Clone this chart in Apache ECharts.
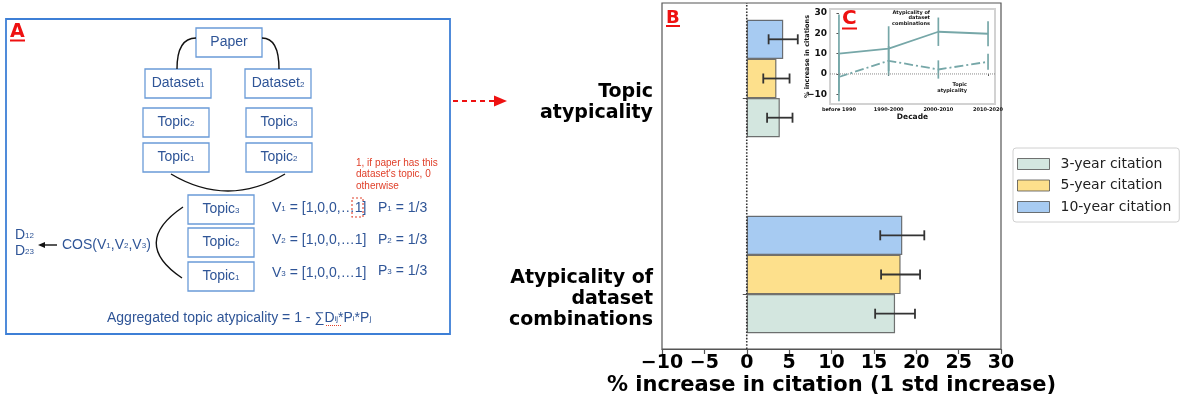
<!DOCTYPE html>
<html><head><meta charset="utf-8">
<script src="https://cdn.jsdelivr.net/npm/echarts@6/dist/echarts.min.js"></script>
<style>html,body{margin:0;padding:0;background:#fff}#c{width:1183px;height:402px}</style>
</head><body><div id="c"></div>
<script>
// ---------- data ----------
const categories = ['Atypicality of\ndataset\ncombinations', 'Topic\natypicality'];
const seriesNames = ['3-year citation', '5-year citation', '10-year citation'];
const cit3 = [17.5, 3.9];
const cit5 = [18.15, 3.5];
const cit10 = [18.35, 4.3];
const err3 = [2.35, 1.5];
const err5 = [2.3, 1.55];
const err10 = [2.6, 1.72];
const xTicks = [-10, -5, 0, 5, 10, 15, 20, 25, 30];
const decades = ['before 1990', '1990-2000', '2000-2010', '2010-2020'];
const combByDecade = [10.0, 12.5, 20.8, 19.8];
const combErr = [19.3, 11, 7, 6.2];
const topicByDecade = [-1.5, 6.5, 2.2, 6.0];
const topicErr = [11.9, 7.3, 4.5, 3.9];
const insetYTicks = [-10, 0, 10, 20, 30];

// ---------- styles ----------
const colors = ['#d3e6df', '#fde08c', '#a7cbf2'];
const edge = 'rgba(70,70,70,0.75)';
const teal = '#76a7a8';
const DJ = 'DejaVu Sans';
const LS = 'Liberation Sans';
const blueText = '#2f5597';
const blueBox = '#6a9bd8';

// main error bars data: [category, lo, hi, slot] (slot: -1 top, 0 middle, +1 bottom)
const errData = [];
[[cit3, err3, 1], [cit5, err5, 0], [cit10, err10, -1]].forEach(([v, e, slot]) => {
  for (let i = 0; i < categories.length; i++) errData.push([i, v[i] - e[i], v[i] + e[i], slot]);
});
const insetErrData = [];
for (let i = 0; i < decades.length; i++) {
  insetErrData.push([i, combByDecade[i] - combErr[i], combByDecade[i] + combErr[i]]);
  insetErrData.push([i, topicByDecade[i] - topicErr[i], topicByDecade[i] + topicErr[i]]);
}

// ---------- panel A graphics helpers ----------
function rt(parts) {
  return parts.map(([t, s]) => (s ? '{s|' + t + '}' : '{n|' + t + '}')).join('');
}
function richText(x, y, parts, fs, align, color) {
  return {
    type: 'text', z: 100, x: x, y: y,
    style: {
      text: rt(parts), align: align || 'left', verticalAlign: 'middle',
      fontFamily: LS, fontSize: fs, fill: color || blueText,
      rich: {
        n: { fontSize: fs, fontFamily: LS, fill: color || blueText },
        s: { fontSize: Math.round(fs * 0.55), fontFamily: LS, fill: color || blueText, verticalAlign: 'bottom', padding: [0, 0, 2, 0] }
      }
    }
  };
}
function box(x, y, w, h, parts) {
  return [
    { type: 'rect', z: 100, shape: { x: x, y: y, width: w, height: h }, style: { fill: '#fff', stroke: blueBox, lineWidth: 1.3 } },
    richText(x + w / 2, y + h / 2, parts, 14, 'center')
  ];
}
const curve = (x1, y1, cx, cy, x2, y2) => ({ type: 'bezierCurve', z: 100, shape: { x1, y1, x2, y2, cpx1: cx, cpy1: cy }, style: { stroke: '#111', lineWidth: 1.4, fill: null } });

const graphics = [
  { type: 'rect', z: 99, shape: { x: 6, y: 19, width: 444, height: 315 }, style: { fill: 'none', stroke: '#3d7fd6', lineWidth: 1.8 } },
  { type: 'text', z: 100, x: 10, y: 32, style: { text: 'A', fontFamily: DJ, fontWeight: 'bold', fontSize: 19, fill: '#ee1111', verticalAlign: 'middle' } },
  { type: 'line', z: 100, shape: { x1: 10, y1: 40.5, x2: 25, y2: 40.5 }, style: { stroke: '#ee1111', lineWidth: 2 } },
  ...box(196, 28, 66, 29, [['Paper']]),
  ...box(145, 69, 66, 29, [['Dataset'], ['1', 1]]),
  ...box(245, 69, 66, 29, [['Dataset'], ['2', 1]]),
  ...box(143, 108, 66, 29, [['Topic'], ['2', 1]]),
  ...box(143, 143, 66, 29, [['Topic'], ['1', 1]]),
  ...box(246, 108, 66, 29, [['Topic'], ['3', 1]]),
  ...box(246, 143, 66, 29, [['Topic'], ['2', 1]]),
  ...box(188, 195, 66, 29, [['Topic'], ['3', 1]]),
  ...box(188, 228, 66, 29, [['Topic'], ['2', 1]]),
  ...box(188, 262, 66, 29, [['Topic'], ['1', 1]]),
  curve(196, 38, 177, 38, 177, 69),
  curve(262, 38, 279, 38, 279, 69),
  curve(171, 174, 228, 208, 285, 174),
  curve(183, 207, 130, 243, 182, 278),
  richText(272, 208, [['V'], ['1', 1], [' = [1,0,0,…1]']], 14),
  richText(272, 240, [['V'], ['2', 1], [' = [1,0,0,…1]']], 14),
  richText(272, 273, [['V'], ['3', 1], [' = [1,0,0,…1]']], 14),
  richText(378, 208, [['P'], ['1', 1], [' = 1/3']], 14),
  richText(378, 240, [['P'], ['2', 1], [' = 1/3']], 14),
  richText(378, 271, [['P'], ['3', 1], [' = 1/3']], 14),
  { type: 'rect', z: 101, shape: { x: 352, y: 198, width: 11, height: 19 }, style: { fill: 'none', stroke: '#e0402a', lineWidth: 1.1, lineDash: [2, 2] } },
  { type: 'text', z: 100, x: 356, y: 157, style: { text: '1, if paper has this\ndataset\'s topic, 0\notherwise', fontFamily: LS, fontSize: 10, lineHeight: 11.5, fill: '#e0402a', verticalAlign: 'top' } },
  richText(62, 245, [['COS(V'], ['1', 1], [',V'], ['2', 1], [',V'], ['3', 1], [')']], 14),
  { type: 'line', z: 100, shape: { x1: 57, y1: 245, x2: 43, y2: 245 }, style: { stroke: '#111', lineWidth: 1.4 } },
  { type: 'polygon', z: 100, shape: { points: [[38, 245], [45, 242], [45, 248]] }, style: { fill: '#111' } },
  richText(15, 235, [['D'], ['12', 1]], 14),
  richText(15, 251, [['D'], ['23', 1]], 14),
  richText(107, 318, [['Aggregated topic atypicality = 1 - ∑D'], ['ij', 1], ['*P'], ['i', 1], ['*P'], ['j', 1]], 14),
  { type: 'line', z: 101, shape: { x1: 326, y1: 325.5, x2: 342, y2: 325.5 }, style: { stroke: '#e0402a', lineWidth: 1, lineDash: [1, 1] } },
  // red dashed arrow A -> B
  { type: 'line', z: 100, shape: { x1: 453, y1: 101, x2: 494, y2: 101 }, style: { stroke: '#ee1111', lineWidth: 2, lineDash: [5, 4] } },
  { type: 'polygon', z: 100, shape: { points: [[494, 95.5], [507, 101], [494, 106.5]] }, style: { fill: '#ee1111' } },
  // B and C labels
  { type: 'text', z: 100, x: 666, y: 18, style: { text: 'B', fontFamily: DJ, fontWeight: 'bold', fontSize: 18, fill: '#ee1111', verticalAlign: 'middle' } },
  { type: 'line', z: 100, shape: { x1: 666, y1: 26, x2: 680, y2: 26 }, style: { stroke: '#ee1111', lineWidth: 2 } },
  { type: 'text', z: 100, x: 842, y: 19, style: { text: 'C', fontFamily: DJ, fontWeight: 'bold', fontSize: 20, fill: '#ee1111', verticalAlign: 'middle' } },
  { type: 'line', z: 100, shape: { x1: 842, y1: 28.5, x2: 857, y2: 28.5 }, style: { stroke: '#ee1111', lineWidth: 2 } },
  // inset annotations
  { type: 'text', z: 100, x: 930, y: 18, style: { text: 'Atypicality of\ndataset\ncombinations', fontFamily: DJ, fontWeight: 'bold', fontSize: 5, lineHeight: 5.6, fill: '#111', align: 'right', verticalAlign: 'middle' } },
  { type: 'text', z: 100, x: 967, y: 82, style: { text: 'Topic\natypicality', fontFamily: DJ, fontWeight: 'bold', fontSize: 5, lineHeight: 5.6, fill: '#111', align: 'right', verticalAlign: 'top' } }
];

const barStyle = i => ({ color: colors[i], borderColor: edge, borderWidth: 1.2 });
const barCommon = { type: 'bar', xAxisIndex: 0, yAxisIndex: 0, barGap: '0%', barCategoryGap: '40%', clip: false };
const chart = echarts.init(document.getElementById('c'));
chart.setOption({
  animation: false,
  backgroundColor: '#fff',
  textStyle: { fontFamily: DJ },
  grid: [
    { left: 662, right: 182, top: 78.5, bottom: 127.5 },
    { left: 662, right: 182, top: 3, bottom: 53, show: true, borderColor: '#555', borderWidth: 1.2, backgroundColor: 'transparent' },
    { left: 830, right: 188, top: 9, bottom: 298, show: true, borderColor: '#d2d2d2', borderWidth: 2, backgroundColor: '#fff' },
    { left: 662, right: 182, top: 0, bottom: 10 }
  ],
  xAxis: [
    { gridIndex: 0, type: 'value', min: -10, max: 30, show: false },
    {
      gridIndex: 1, type: 'value', min: -10, max: 30, interval: 5,
      axisLine: { show: true, lineStyle: { color: '#555', width: 1.2 } },
      axisTick: { show: true, length: 5, lineStyle: { color: '#555', width: 1.2 } },
      splitLine: { show: false },
      axisLabel: { fontSize: 19, fontWeight: 'bold', color: '#000', fontFamily: DJ, margin: 5, formatter: v => String(v).replace('-', '\u2212') },
      name: '% increase in citation (1 std increase)', nameLocation: 'middle', nameGap: 26, nameMoveOverlap: false,
      nameTextStyle: { fontSize: 21, fontWeight: 'bold', color: '#000', fontFamily: DJ }
    },
    {
      gridIndex: 2, type: 'value', min: -0.18, max: 3.14,
      axisLine: { show: false },
      axisTick: { show: true, customValues: [0, 1, 2, 3], length: 2, lineStyle: { color: '#555' } },
      splitLine: { show: false },
      axisLabel: { customValues: [0, 1, 2, 3], formatter: v => decades[v], fontSize: 5, fontWeight: 'bold', color: '#111', margin: 3 },
      name: 'Decade', nameLocation: 'middle', nameGap: 9, nameMoveOverlap: false,
      nameTextStyle: { fontSize: 7.5, fontWeight: 'bold', color: '#111' }
    },
    { gridIndex: 3, type: 'value', min: -10, max: 30, show: false }
  ],
  yAxis: [
    { gridIndex: 0, type: 'category', data: categories, boundaryGap: false, show: false },
    { gridIndex: 1, type: 'value', min: 0, max: 1, show: false },
    {
      gridIndex: 2, type: 'value', min: -14.8, max: 32,
      axisLine: { show: false },
      axisTick: { show: true, customValues: insetYTicks, length: 2.5, lineStyle: { color: '#555' } },
      splitLine: { show: false },
      axisLabel: { customValues: insetYTicks, fontSize: 9, fontWeight: 'bold', color: '#111', margin: 3, formatter: v => String(v).replace('-', '\u2212') },
      name: '% increase in citations', nameLocation: 'middle', nameGap: 19, nameRotate: 90, nameMoveOverlap: false,
      nameTextStyle: { fontSize: 6.5, fontWeight: 'bold', color: '#111' }
    },
    {
      gridIndex: 3, type: 'category', data: categories,
      axisLine: { show: false },
      axisTick: { show: true, alignWithLabel: true, length: 4, lineStyle: { color: '#555' } },
      axisLabel: {
        margin: 9, align: 'right',
        formatter: v => '{g| }\n' + v.split('\n').map(s => '{t|' + s + '}').join('\n'),
        rich: {
          g: { fontSize: 1, lineHeight: 10 },
          t: { fontSize: 19, fontWeight: 'bold', color: '#000', fontFamily: DJ, lineHeight: 21, align: 'right' }
        }
      }
    }
  ],
  legend: {
    data: seriesNames.map((n, i) => ({ name: n, itemStyle: { color: colors[i], borderColor: edge, borderWidth: 1 } })),
    orient: 'vertical', left: 1013, top: 148, icon: 'rect',
    itemWidth: 32, itemHeight: 11, itemGap: 7.5,
    padding: [9, 8, 8, 4], borderColor: '#d0d0d0', borderWidth: 1, borderRadius: 3,
    textStyle: { fontSize: 14, color: '#222', fontFamily: DJ, padding: [0, 0, 0, 6] }
  },
  series: [
    Object.assign({ name: seriesNames[2], data: cit10, itemStyle: barStyle(2) }, barCommon),
    Object.assign({ name: seriesNames[1], data: cit5, itemStyle: barStyle(1) }, barCommon),
    Object.assign({ name: seriesNames[0], data: cit3, itemStyle: barStyle(0) }, barCommon),
    {
      type: 'custom', xAxisIndex: 0, yAxisIndex: 0, z: 5, data: errData, encode: { x: [1, 2], y: 0 }, clip: false,
      renderItem: function (params, api) {
        const cat = api.value(0), lo = api.value(1), hi = api.value(2), slot = api.value(3);
        const band = Math.abs(api.coord([0, 1])[1] - api.coord([0, 0])[1]);
        const h = band * 0.6 / 3;
        const a = api.coord([lo, cat]), b = api.coord([hi, cat]);
        const y = a[1] + slot * h;
        const cap = 5;
        const st = { stroke: '#333', lineWidth: 1.8, fill: null };
        return {
          type: 'group', children: [
            { type: 'line', shape: { x1: a[0], y1: y, x2: b[0], y2: y }, style: st },
            { type: 'line', shape: { x1: a[0], y1: y - cap, x2: a[0], y2: y + cap }, style: st },
            { type: 'line', shape: { x1: b[0], y1: y - cap, x2: b[0], y2: y + cap }, style: st }
          ]
        };
      }
    },
    { type: 'line', xAxisIndex: 1, yAxisIndex: 1, z: 6, data: [[0, 0], [0, 1]], symbol: 'none', lineStyle: { type: 'dotted', color: '#333', width: 1.6 } },
    // inset
    { type: 'line', xAxisIndex: 2, yAxisIndex: 2, data: [[-0.18, 0], [3.14, 0]], symbol: 'none', lineStyle: { type: 'dotted', color: '#888', width: 1 } },
    { type: 'line', xAxisIndex: 2, yAxisIndex: 2, data: combByDecade.map((v, i) => [i, v]), symbol: 'none', lineStyle: { color: teal, width: 1.8 } },
    { type: 'line', xAxisIndex: 2, yAxisIndex: 2, data: topicByDecade.map((v, i) => [i, v]), symbol: 'none', lineStyle: { color: teal, width: 1.8, type: [9, 3, 2, 3] } },
    {
      type: 'custom', xAxisIndex: 2, yAxisIndex: 2, data: insetErrData, encode: { x: 0, y: [1, 2] },
      renderItem: function (params, api) {
        const a = api.coord([api.value(0), api.value(1)]), b = api.coord([api.value(0), api.value(2)]);
        return { type: 'line', shape: { x1: a[0], y1: a[1], x2: b[0], y2: b[1] }, style: { stroke: teal, lineWidth: 1.7 } };
      }
    }
  ],
  graphic: { elements: graphics }
});
</script>
</body></html>
